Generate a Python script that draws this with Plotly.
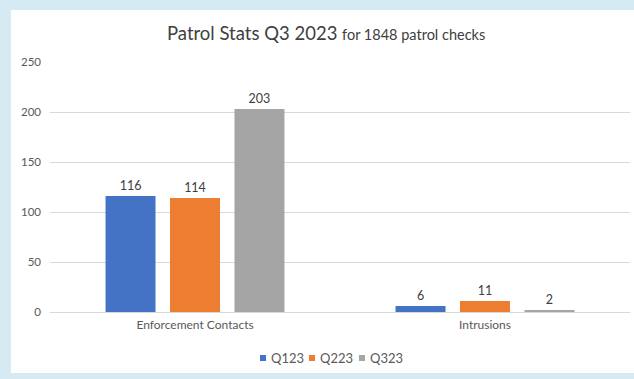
import plotly.graph_objects as go

categories = ["Enforcement Contacts", "Intrusions"]
series_names = ["Q123", "Q223", "Q323"]
q123 = [116, 6]
q223 = [114, 11]
q323 = [203, 2]
colors = ["#4472C4", "#ED7D31", "#A5A5A5"]
y_ticks = [0, 50, 100, 150, 200, 250]

fig = go.Figure()
for name, vals, col in zip(series_names, [q123, q223, q323], colors):
    fig.add_trace(go.Bar(
        x=categories, y=vals, name=name, marker_color=col,
        marker_line_width=0, showlegend=False,
        text=[str(v) for v in vals], textposition="outside",
        textfont=dict(size=12.5, color="#404040", family="Lato"),
        cliponaxis=False,
    ))

W, H = 634, 379
L, R, T, B = 50, 4, 62, 67
pw = W - L - R
ph = H - T - B

def px_x(p):
    return (p - L) / pw

def px_y(p):
    return (H - B - p) / ph

shapes = [dict(type="rect", xref="paper", yref="paper",
               x0=px_x(11), x1=px_x(636), y0=px_y(373), y1=px_y(10),
               fillcolor="white", line_width=0, layer="below")]
annotations = [
    dict(xref="paper", yref="paper", x=px_x(326), y=px_y(33),
         xanchor="center", yanchor="middle", showarrow=False,
         text="Patrol Stats Q3 2023 <span style='font-size:14.5px'>for 1848 patrol checks</span>",
         font=dict(size=18.5, color="#404040", family="Lato")),
]
# legend drawn compactly like the original
leg_x = [260, 309, 359]
for name, col, lx in zip(series_names, colors, leg_x):
    shapes.append(dict(type="rect", xref="paper", yref="paper",
                       x0=px_x(lx), x1=px_x(lx + 6), y0=px_y(361), y1=px_y(355),
                       fillcolor=col, line_width=0))
    annotations.append(dict(xref="paper", yref="paper", x=px_x(lx + 9), y=px_y(357.5),
                            xanchor="left", yanchor="middle", showarrow=False,
                            text=name, font=dict(size=13, color="#595959", family="Lato")))

fig.update_layout(
    width=W, height=H,
    margin=dict(l=L, r=R, t=T, b=B),
    paper_bgcolor="#d6eaf4",
    plot_bgcolor="rgba(0,0,0,0)",
    font=dict(family="Lato", color="#595959"),
    barmode="group",
    bargap=0.333,
    bargroupgap=0.225,
    showlegend=False,
    shapes=shapes,
    annotations=annotations,
)
fig.update_yaxes(range=[0, 250], tickvals=y_ticks, showgrid=True, gridcolor="#d9d9d9",
                 gridwidth=1, zeroline=False, showline=False,
                 tickfont=dict(size=11.5, color="#595959"), ticklabelstandoff=8)
fig.update_xaxes(showline=True, linecolor="#d9d9d9", linewidth=1, showgrid=False,
                 tickfont=dict(size=12, color="#595959"), ticks="", ticklabelstandoff=2)

fig.write_html("out.html")
